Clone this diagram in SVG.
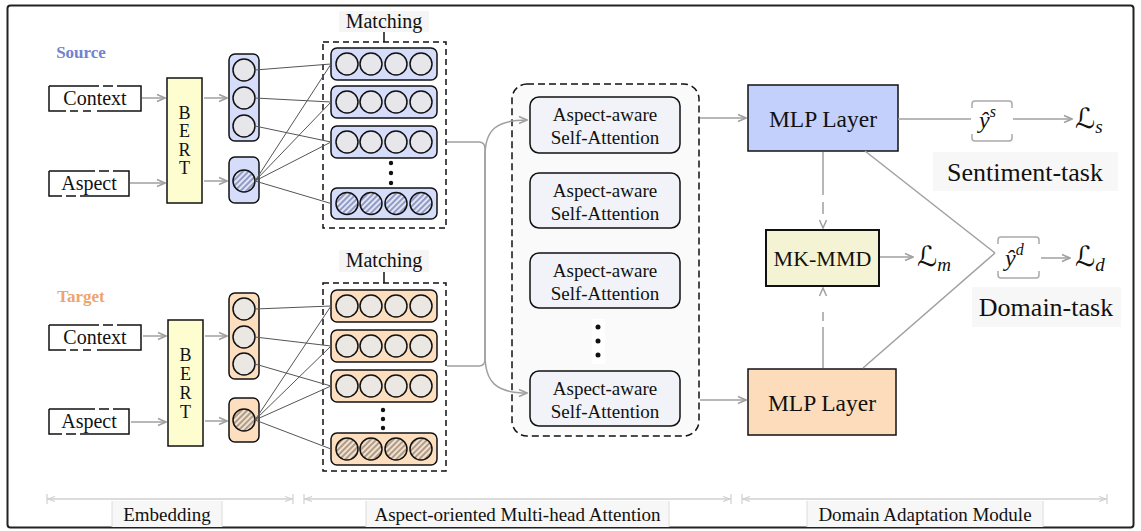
<svg xmlns="http://www.w3.org/2000/svg" width="1141" height="531" viewBox="0 0 1141 531">
<defs>
<style>
.t{font-family:"Liberation Serif","Times New Roman",serif;fill:#111}
.m{font-family:"Liberation Serif","Times New Roman",serif;font-style:italic;fill:#111}
.L{font-family:"DejaVu Serif","DejaVu Sans",serif;font-style:italic;fill:#111}
.gl{stroke:#a0a0a0;stroke-width:1.5;fill:none}
.ga{stroke:#a0a0a0;stroke-width:1.5;fill:none;marker-end:url(#ah)}
.bx{fill:none;stroke:#111;stroke-width:1.5}
.ln{stroke:#555;stroke-width:1;fill:none}
.cs{fill:#e6e6eb;stroke:#111;stroke-width:1.5}
.ct{fill:#ebe8e4;stroke:#111;stroke-width:1.5}
.hs{fill:url(#hb);stroke:#111;stroke-width:1.5}
.ht{fill:url(#ho);stroke:#111;stroke-width:1.5}
.ps{fill:#d6ddfb;stroke:#111;stroke-width:1.5}
.pt{fill:#fddfc0;stroke:#111;stroke-width:1.5}
.dash{fill:none;stroke:#111;stroke-width:1.5;stroke-dasharray:6 4}
.br{fill:none;stroke:#aaa;stroke-width:1.5}
.att{fill:#f1f3f9;stroke:#111;stroke-width:1.5}
.ax{stroke:#d0d0d0;stroke-width:1.3;fill:none;marker-start:url(#as);marker-end:url(#ae)}
.lb{fill:#f7f7f7}
.lbl{stroke:#dcdcdc;stroke-width:1}
</style>
<marker id="ah" viewBox="0 0 10 10" refX="9" refY="5" markerWidth="10" markerHeight="10" markerUnits="userSpaceOnUse" orient="auto"><path d="M1,1.5 L9,5 L1,8.5" fill="none" stroke="#a0a0a0" stroke-width="1.5"/></marker>
<marker id="as" viewBox="0 0 12 12" refX="1" refY="6" markerWidth="12" markerHeight="12" markerUnits="userSpaceOnUse" orient="auto"><path d="M1,1 V11 M9,3.5 L2,6 L9,8.5" fill="none" stroke="#d0d0d0" stroke-width="1.2"/></marker>
<marker id="ae" viewBox="0 0 12 12" refX="11" refY="6" markerWidth="12" markerHeight="12" markerUnits="userSpaceOnUse" orient="auto"><path d="M11,1 V11 M3,3.5 L10,6 L3,8.5" fill="none" stroke="#d0d0d0" stroke-width="1.2"/></marker>
<pattern id="hb" patternUnits="userSpaceOnUse" width="4" height="4" patternTransform="rotate(45)"><rect width="4" height="4" fill="#e2e5f5"/><line x1="1" y1="0" x2="1" y2="4" stroke="#7c88b8" stroke-width="1.6"/></pattern>
<pattern id="ho" patternUnits="userSpaceOnUse" width="4" height="4" patternTransform="rotate(45)"><rect width="4" height="4" fill="#efe2d4"/><line x1="1" y1="0" x2="1" y2="4" stroke="#a48a6e" stroke-width="1.6"/></pattern>
</defs>
<rect width="1141" height="531" fill="#fff"/>
<rect x="7.5" y="5.5" width="1126" height="522" rx="3" fill="none" stroke="#222" stroke-width="2"/>

<!-- ===== Source ===== -->
<g id="source-label"><text class="t" x="81" y="58" text-anchor="middle" font-size="17" font-weight="bold" style="fill:#7282cf">Source</text></g>
<g id="src-context">
<path class="bx" d="M49,86 H99 M103,86 H113 M117,86 H141 V111 H97 M91,111 H83 M78,111 H70 M66,111 H49 V86"/>
<text class="t" x="95" y="105" text-anchor="middle" font-size="20">Context</text>
</g>
<g id="src-aspect">
<path class="bx" d="M49,171 H95 M99,171 H109 M113,171 H129 V196 H80 M76,196 H66 M62,196 H49 V171"/>
<text class="t" x="89" y="190" text-anchor="middle" font-size="20">Aspect</text>
</g>
<g id="src-bert">
<rect x="167" y="78" width="35" height="125" fill="#fdfdd0" stroke="#111" stroke-width="1.5"/>
<text class="t" x="184.5" font-size="18" text-anchor="middle"><tspan x="184.5" y="119">B</tspan><tspan x="184.5" y="137">E</tspan><tspan x="184.5" y="156">R</tspan><tspan x="184.5" y="174">T</tspan></text>
</g>
<g id="src-context-vec">
<rect class="ps" x="229" y="54" width="30" height="87" rx="6"/>
<circle class="cs" cx="244" cy="70" r="11"/><circle class="cs" cx="244" cy="98" r="11"/><circle class="cs" cx="244" cy="126" r="11"/>
</g>
<g id="src-aspect-vec">
<rect class="ps" x="229" y="157" width="30" height="46" rx="6"/>
<circle class="hs" cx="244" cy="181" r="11"/>
</g>
<g id="src-matching">
<rect x="339" y="11" width="90" height="21" fill="#f5f5f5"/>
<text class="t" x="384" y="28" text-anchor="middle" font-size="20">Matching</text>
<line x1="384" y1="32" x2="384" y2="42" stroke="#111" stroke-width="1.5"/>
<rect class="dash" x="323" y="42" width="123" height="186"/>
<rect class="ps" x="331" y="48" width="106" height="32" rx="6"/>
<circle class="cs" cx="347" cy="64" r="11"/><circle class="cs" cx="371" cy="64" r="11"/><circle class="cs" cx="396" cy="64" r="11"/><circle class="cs" cx="421" cy="64" r="11"/>
<rect class="ps" x="331" y="86" width="106" height="32" rx="6"/>
<circle class="cs" cx="347" cy="102" r="11"/><circle class="cs" cx="371" cy="102" r="11"/><circle class="cs" cx="396" cy="102" r="11"/><circle class="cs" cx="421" cy="102" r="11"/>
<rect class="ps" x="331" y="126" width="106" height="32" rx="6"/>
<circle class="cs" cx="347" cy="142" r="11"/><circle class="cs" cx="371" cy="142" r="11"/><circle class="cs" cx="396" cy="142" r="11"/><circle class="cs" cx="421" cy="142" r="11"/>
<circle cx="391" cy="163" r="2.2" fill="#111"/><circle cx="391" cy="173" r="2.2" fill="#111"/><circle cx="391" cy="183" r="2.2" fill="#111"/>
<rect class="ps" x="331" y="188" width="106" height="31" rx="6"/>
<circle class="hs" cx="347" cy="203.5" r="11"/><circle class="hs" cx="371" cy="203.5" r="11"/><circle class="hs" cx="396" cy="203.5" r="11"/><circle class="hs" cx="421" cy="203.5" r="11"/>
</g>

<!-- ===== Target ===== -->
<g id="target-label"><text class="t" x="81" y="302" text-anchor="middle" font-size="17" font-weight="bold" style="fill:#eea46c">Target</text></g>
<g id="tgt-context">
<path class="bx" d="M49,325 H99 M103,325 H113 M117,325 H141 V350 H97 M91,350 H83 M78,350 H70 M66,350 H49 V325"/>
<text class="t" x="95" y="344" text-anchor="middle" font-size="20">Context</text>
</g>
<g id="tgt-aspect">
<path class="bx" d="M49,409 H95 M99,409 H109 M113,409 H129 V434 H80 M76,434 H66 M62,434 H49 V409"/>
<text class="t" x="89" y="428" text-anchor="middle" font-size="20">Aspect</text>
</g>
<g id="tgt-bert">
<rect x="168" y="320" width="35" height="126" fill="#fdfdd0" stroke="#111" stroke-width="1.5"/>
<text class="t" font-size="18" text-anchor="middle"><tspan x="185.5" y="361">B</tspan><tspan x="185.5" y="380">E</tspan><tspan x="185.5" y="399">R</tspan><tspan x="185.5" y="418">T</tspan></text>
</g>
<g id="tgt-context-vec">
<rect class="pt" x="229" y="293" width="30" height="86" rx="6"/>
<circle class="ct" cx="244" cy="309" r="11"/><circle class="ct" cx="244" cy="337" r="11"/><circle class="ct" cx="244" cy="364" r="11"/>
</g>
<g id="tgt-aspect-vec">
<rect class="pt" x="229" y="398" width="30" height="44" rx="6"/>
<circle class="ht" cx="244" cy="420" r="11"/>
</g>
<g id="tgt-matching">
<rect x="339" y="250" width="90" height="22" fill="#f5f5f5"/>
<text class="t" x="384" y="267" text-anchor="middle" font-size="20">Matching</text>
<line x1="384" y1="272" x2="384" y2="283" stroke="#111" stroke-width="1.5"/>
<rect class="dash" x="323" y="283" width="123" height="188"/>
<rect class="pt" x="331" y="290" width="106" height="32" rx="6"/>
<circle class="ct" cx="347" cy="306" r="11"/><circle class="ct" cx="371" cy="306" r="11"/><circle class="ct" cx="396" cy="306" r="11"/><circle class="ct" cx="421" cy="306" r="11"/>
<rect class="pt" x="331" y="330" width="106" height="32" rx="6"/>
<circle class="ct" cx="347" cy="346" r="11"/><circle class="ct" cx="371" cy="346" r="11"/><circle class="ct" cx="396" cy="346" r="11"/><circle class="ct" cx="421" cy="346" r="11"/>
<rect class="pt" x="331" y="370" width="106" height="32" rx="6"/>
<circle class="ct" cx="347" cy="386" r="11"/><circle class="ct" cx="371" cy="386" r="11"/><circle class="ct" cx="396" cy="386" r="11"/><circle class="ct" cx="421" cy="386" r="11"/>
<circle cx="383" cy="410" r="2.2" fill="#111"/><circle cx="383" cy="419" r="2.2" fill="#111"/><circle cx="383" cy="428" r="2.2" fill="#111"/>
<rect class="pt" x="331" y="433" width="106" height="32" rx="6"/>
<circle class="ht" cx="347" cy="449" r="11"/><circle class="ht" cx="371" cy="449" r="11"/><circle class="ht" cx="396" cy="449" r="11"/><circle class="ht" cx="421" cy="449" r="11"/>
</g>

<!-- ===== Attention ===== -->
<g id="attention">
<rect x="512" y="84" width="187" height="352" rx="15" fill="#fafafa" stroke="#111" stroke-width="1.5" stroke-dasharray="7 4"/>
</g>
<g id="att1"><rect class="att" x="530" y="97" width="150" height="56" rx="9"/>
<text class="t" x="605" font-size="19" text-anchor="middle"><tspan x="605" y="121">Aspect-aware</tspan><tspan x="605" y="144">Self-Attention</tspan></text></g>
<g id="att2"><rect class="att" x="530" y="173" width="150" height="55" rx="9"/>
<text class="t" x="605" font-size="19" text-anchor="middle"><tspan x="605" y="197">Aspect-aware</tspan><tspan x="605" y="220">Self-Attention</tspan></text></g>
<g id="att3"><rect class="att" x="530" y="253" width="150" height="55" rx="9"/>
<text class="t" x="605" font-size="19" text-anchor="middle"><tspan x="605" y="277">Aspect-aware</tspan><tspan x="605" y="300">Self-Attention</tspan></text></g>
<g id="att-dots"><rect x="592" y="319" width="13" height="45" fill="#fff"/>
<circle cx="598" cy="327" r="2.5" fill="#111"/><circle cx="598" cy="341" r="2.5" fill="#111"/><circle cx="598" cy="355" r="2.5" fill="#111"/></g>
<g id="att4"><rect class="att" x="530" y="371" width="150" height="55" rx="9"/>
<text class="t" x="605" font-size="19" text-anchor="middle"><tspan x="605" y="395">Aspect-aware</tspan><tspan x="605" y="418">Self-Attention</tspan></text></g>

<!-- ===== Domain adaptation ===== -->
<g id="mlp-source"><rect x="748" y="85" width="150" height="66" fill="#c3d0fb" stroke="#111" stroke-width="1.5"/>
<text class="t" x="823" y="127" text-anchor="middle" font-size="23.5">MLP Layer</text></g>
<g id="mlp-target"><rect x="748" y="369" width="148" height="66" fill="#fddcbc" stroke="#111" stroke-width="1.5"/>
<text class="t" x="822" y="411" text-anchor="middle" font-size="23.5">MLP Layer</text></g>
<g id="mkmmd"><rect x="766" y="230" width="113" height="56" fill="#f4f4d4" stroke="#111" stroke-width="2"/>
<text class="t" x="822.5" y="266" text-anchor="middle" font-size="22">MK-MMD</text></g>
<g id="ys">
<path class="br" d="M972,108 V104 Q972,101 975,101 H1009 Q1012,101 1012,104 V108 M972,134 V138 Q972,141 975,141 H1009 Q1012,141 1012,138 V134"/>
<text class="m" x="979" y="128" font-size="24">ŷ<tspan font-size="16" dy="-11">s</tspan></text>
</g>
<g id="yd">
<path class="br" d="M998,244 V240 Q998,237 1001,237 H1036 Q1039,237 1039,240 V244 M998,271 V275 Q998,278 1001,278 H1036 Q1039,278 1039,275 V271"/>
<text class="m" x="1005" y="266" font-size="24">ŷ<tspan font-size="16" dy="-11">d</tspan></text>
</g>
<g id="Ls"><text class="L" x="1075" y="128" font-size="28">ℒ<tspan class="m" font-size="19" dy="5">s</tspan></text></g>
<g id="Lm"><text class="L" x="917" y="266" font-size="28">ℒ<tspan class="m" font-size="19" dy="5">m</tspan></text></g>
<g id="Ld"><text class="L" x="1075" y="266" font-size="28">ℒ<tspan class="m" font-size="19" dy="5">d</tspan></text></g>
<g id="sentiment-task"><rect x="933" y="152" width="185" height="39" fill="#f7f7f7"/>
<text class="t" x="1025" y="181" text-anchor="middle" font-size="26">Sentiment-task</text></g>
<g id="domain-task"><rect x="972" y="287" width="149" height="40" fill="#f7f7f7"/>
<text class="t" x="1046" y="316" text-anchor="middle" font-size="26">Domain-task</text></g>

<!-- ===== Bottom sections ===== -->
<g id="sec-embedding">
<line class="ax" x1="47" y1="499" x2="293" y2="499"/>
<rect class="lb" x="112" y="501" width="110" height="26"/>
<line class="lbl" x1="112" y1="501" x2="112" y2="527"/><line class="lbl" x1="222" y1="501" x2="222" y2="527"/>
<text class="t" x="167" y="521" text-anchor="middle" font-size="19">Embedding</text>
</g>
<g id="sec-attention">
<line class="ax" x1="304" y1="499" x2="731" y2="499"/>
<rect class="lb" x="366" y="501" width="303" height="26"/>
<line class="lbl" x1="366" y1="501" x2="366" y2="527"/><line class="lbl" x1="669" y1="501" x2="669" y2="527"/>
<text class="t" x="517.5" y="521" text-anchor="middle" font-size="19">Aspect-oriented Multi-head Attention</text>
</g>
<g id="sec-domain">
<line class="ax" x1="742" y1="499" x2="1107" y2="499"/>
<rect class="lb" x="807" y="501" width="236" height="26"/>
<line class="lbl" x1="807" y1="501" x2="807" y2="527"/><line class="lbl" x1="1043" y1="501" x2="1043" y2="527"/>
<text class="t" x="925" y="521" text-anchor="middle" font-size="19">Domain Adaptation Module</text>
</g>

<!-- ===== Connectors ===== -->
<g id="connectors">
<line class="ga" x1="142" y1="98" x2="165" y2="98"/>
<line class="ga" x1="130" y1="183" x2="165" y2="183"/>
<line class="ga" x1="204" y1="98" x2="227" y2="98"/>
<line class="ga" x1="204" y1="181" x2="227" y2="181"/>
<line class="ga" x1="143" y1="336" x2="166" y2="336"/>
<line class="ga" x1="131" y1="422" x2="166" y2="422"/>
<line class="ga" x1="205" y1="336" x2="227" y2="336"/>
<line class="ga" x1="205" y1="421" x2="227" y2="421"/>
<path class="ln" d="M255,70 L331,64 M255,98 L331,102 M255,126 L331,142 M255,181 L331,64 M255,181 L331,102 M255,181 L331,142 M255,181 L331,203.5"/>
<path class="ln" d="M255,309 L331,306 M255,337 L331,346 M255,364 L331,386 M255,420 L331,306 M255,420 L331,346 M255,420 L331,386 M255,420 L331,449"/>
<path class="ga" d="M447,142 H479 Q485,142 485,149 V355 C485,382 496,393 527,393"/>
<path class="ga" d="M447,366 H479 Q485,366 485,359 V156 C485,130 496,120 527,120"/>
<line class="ga" x1="700" y1="118" x2="746" y2="118"/>
<line class="ga" x1="700" y1="400" x2="746" y2="400"/>
<line class="ga" x1="823" y1="152" x2="823" y2="228" style="stroke-dasharray:43 7 12 30"/>
<line class="ga" x1="823" y1="368" x2="823" y2="288" style="stroke-dasharray:41 6 9 30"/>
<line class="gl" x1="898" y1="119" x2="971" y2="119"/>
<line class="ga" x1="1013" y1="119" x2="1072" y2="119"/>
<line class="gl" x1="865" y1="151" x2="995" y2="253"/>
<line class="gl" x1="863" y1="368" x2="995" y2="253"/>
<line class="ga" x1="880" y1="257" x2="913" y2="257"/>
<line class="ga" x1="1041" y1="258" x2="1070" y2="258"/>
</g>
</svg>
